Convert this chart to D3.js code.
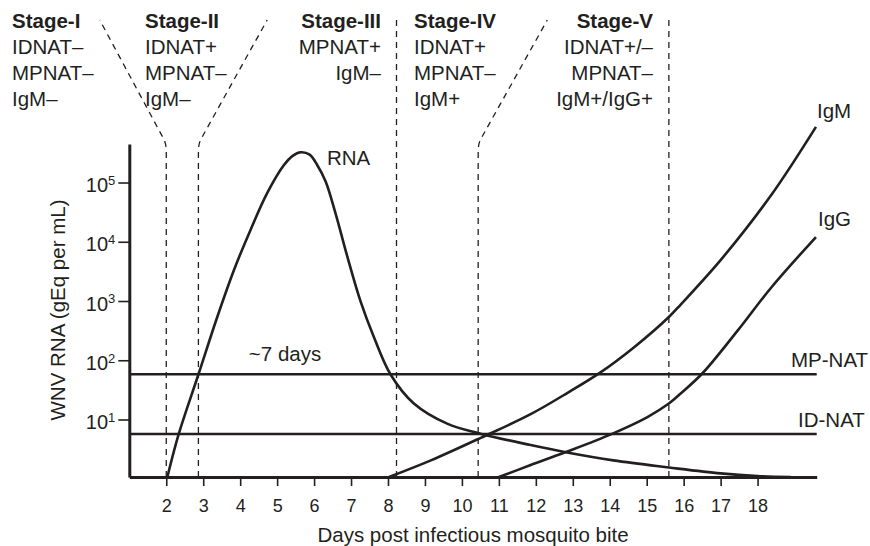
<!DOCTYPE html>
<html>
<head>
<meta charset="utf-8">
<script src="https://cdn.jsdelivr.net/npm/d3@7"></script>
<style>
  body { margin: 0; background: #fff; }
  svg { display: block; }
  text { font-family: "Liberation Sans", Arial, Helvetica, sans-serif; fill: #231f20; }
</style>
</head>
<body>
<svg id="chart" width="870" height="546"></svg>
<script>
// values (days after bite, gEq per mL)
const rnaDays = [2.03, 2.34, 2.87, 3.38, 3.83, 4.28, 4.73, 5.18, 5.42, 5.64, 5.88, 6.08, 6.31, 6.58, 6.9, 7.26, 7.62, 8.07, 8.7, 9.6, 10.5, 11.86, 12.81, 14.1, 15.6, 17.0, 18.0, 18.9];
const rnaLoad = [1.07, 5.75, 57.5, 537, 3311, 15849, 66069, 194984, 281838, 323594, 295121, 199526, 104713, 30200, 5623, 977, 245, 57.5, 18.6, 8.5, 5.75, 3.7, 2.8, 2.04, 1.55, 1.23, 1.11, 1.07];

const igmDays = [8.03, 9.16, 10.51, 11.86, 12.86, 13.76, 14.66, 15.6, 15.92, 17.0, 18.36, 19.58];
const igmLevel = [1.07, 2.04, 4.9, 12.3, 28.2, 63, 166, 537, 871, 4898, 60256, 870964];

const iggDays = [11.0, 11.86, 12.81, 14.03, 15.02, 15.6, 15.92, 16.51, 17.46, 18.36, 19.58];
const iggLevel = [1.07, 1.7, 2.82, 5.62, 11.0, 18.6, 27.5, 60.3, 316, 1660, 12023];

const thresholdNames = ["MP-NAT", "ID-NAT"];
const thresholdValues = [58, 5.7];

const xTickDays = [2, 3, 4, 5, 6, 7, 8, 9, 10, 11, 12, 13, 14, 15, 16, 17, 18];
const yTickValues = [10, 100, 1000, 10000, 100000];
const yTickPowers = ["1", "2", "3", "4", "5"];

// stage boundaries: day at the axis, day where the dashed line ends at the top
const boundaryDays = [2.0, 2.87, 8.23, 10.44, 15.6];
const boundaryTopDays = [0.2, 4.73, 8.23, 12.31, 15.6];

const stageTitles = ["Stage-I", "Stage-II", "Stage-III", "Stage-IV", "Stage-V"];
const stageLines = [
  ["IDNAT–", "MPNAT–", "IgM–"],
  ["IDNAT+", "MPNAT–", "IgM–"],
  ["MPNAT+", "IgM–"],
  ["IDNAT+", "MPNAT–", "IgM+"],
  ["IDNAT+/–", "MPNAT–", "IgM+/IgG+"]
];

const ink = "#231f20";
const svg = d3.select("#chart");

const x = d3.scaleLinear().domain([1, 19.6]).range([129.3, 816.7]);
const y = d3.scaleLog().domain([1.07, 446684]).range([477, 144]);

const line = d3.line()
  .x(d => x(d[0]))
  .y(d => y(d[1]))
  .curve(d3.curveCatmullRom.alpha(0.5));

// stage boundaries (dashed)
const kinkY = 145, topY = 17;
boundaryDays.forEach((day, i) => {
  const bx = x(day), tx = x(boundaryTopDays[i]);
  let d;
  if (Math.abs(tx - bx) < 0.5) {
    d = `M${bx},${y(1.07)}L${bx},${topY}`;
  } else {
    d = `M${bx},${y(1.07)}L${bx},${kinkY + 6}Q${bx},${kinkY} ${bx + (tx - bx) * 0.03},${kinkY - 5}L${tx},${topY + 3}`;
  }
  svg.append("path")
    .attr("d", d)
    .attr("fill", "none")
    .attr("stroke", ink)
    .attr("stroke-width", 1.3)
    .attr("stroke-dasharray", "6,5");
});

// threshold lines
thresholdValues.forEach(v => {
  svg.append("line")
    .attr("x1", x(1)).attr("x2", x(19.6))
    .attr("y1", y(v)).attr("y2", y(v))
    .attr("stroke", ink).attr("stroke-width", 2.6);
});

// curves
[[rnaDays, rnaLoad], [igmDays, igmLevel], [iggDays, iggLevel]].forEach(([ds, vs]) => {
  svg.append("path")
    .datum(ds.map((dd, i) => [dd, vs[i]]))
    .attr("d", line)
    .attr("fill", "none")
    .attr("stroke", ink)
    .attr("stroke-width", 2.6)
    .attr("stroke-linejoin", "round");
});

// x axis
const xAxis = svg.append("g")
  .attr("transform", `translate(0,${y(1.07)})`)
  .call(d3.axisBottom(x).tickValues(xTickDays).tickSize(9).tickSizeOuter(0));
xAxis.select(".domain").attr("stroke", ink).attr("stroke-width", 3);
xAxis.selectAll(".tick line").attr("stroke", ink).attr("stroke-width", 1.6);
xAxis.selectAll(".tick text")
  .attr("y", 22)
  .attr("font-size", 18)
  .attr("fill", ink);

// y axis
const yAxis = svg.append("g")
  .attr("transform", `translate(${x(1)},0)`)
  .call(d3.axisLeft(y).tickValues(yTickValues).tickSize(11).tickSizeOuter(0).tickFormat(""));
yAxis.select(".domain").attr("stroke", ink).attr("stroke-width", 3);
yAxis.selectAll(".tick line").attr("stroke", ink).attr("stroke-width", 1.6);
yAxis.selectAll(".tick text").each(function (d, i) {
  const t = d3.select(this)
    .attr("x", -14)
    .attr("dy", "0.45em")
    .attr("font-size", 20)
    .attr("fill", ink)
    .attr("text-anchor", "end");
  t.append("tspan").text("10");
  t.append("tspan").attr("dy", "-0.55em").attr("font-size", 13).text(yTickPowers[i]);
});

// axis titles
svg.append("text")
  .attr("x", 473).attr("y", 541.5)
  .attr("text-anchor", "middle")
  .attr("font-size", 20.5)
  .text("Days post infectious mosquito bite");

svg.append("text")
  .attr("transform", "translate(57,310) rotate(-90)")
  .attr("text-anchor", "middle")
  .attr("dominant-baseline", "central")
  .attr("font-size", 20.5)
  .text("WNV RNA (gEq per mL)");

// curve and threshold labels
const labels = [
  { t: "RNA", x: 327, y: 165, a: "start" },
  { t: "~7 days", x: 285, y: 361, a: "middle" },
  { t: "IgM", x: 817, y: 118, a: "start" },
  { t: "IgG", x: 818, y: 226, a: "start" },
  { t: thresholdNames[0], x: 791, y: 367, a: "start" },
  { t: thresholdNames[1], x: 798, y: 427, a: "start" }
];
labels.forEach(l => {
  svg.append("text")
    .attr("x", l.x).attr("y", l.y)
    .attr("text-anchor", l.a)
    .attr("font-size", 20.5)
    .text(l.t);
});

// stage headers
const stageX = [12, 145, 381, 414, 653];
const stageAnchor = ["start", "start", "end", "start", "end"];
const rowY = [28, 54, 80, 106];
stageTitles.forEach((title, i) => {
  const g = svg.append("g");
  g.append("text")
    .attr("x", stageX[i]).attr("y", rowY[0])
    .attr("text-anchor", stageAnchor[i])
    .attr("font-size", 20.5)
    .attr("font-weight", "bold")
    .text(title);
  stageLines[i].forEach((s, j) => {
    g.append("text")
      .attr("x", stageX[i]).attr("y", rowY[j + 1])
      .attr("text-anchor", stageAnchor[i])
      .attr("font-size", 20.5)
      .text(s);
  });
});
</script>
</body>
</html>
